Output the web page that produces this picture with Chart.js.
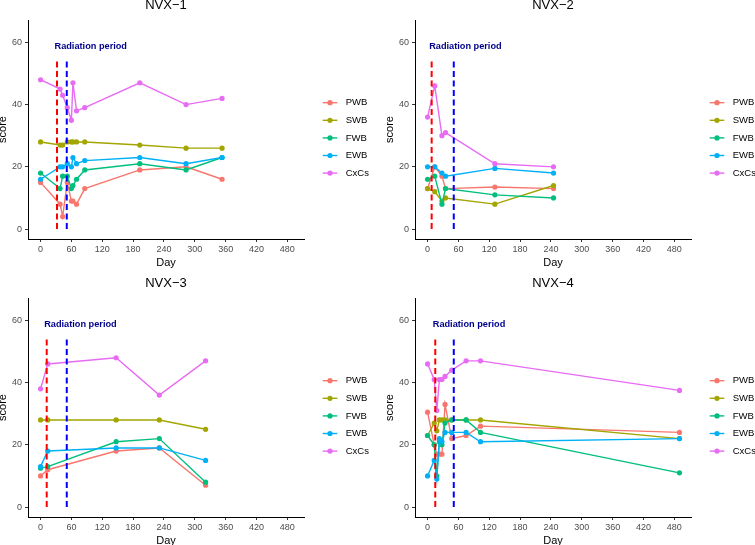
<!DOCTYPE html>
<html>
<head>
<meta charset="utf-8">
<script src="https://cdn.jsdelivr.net/npm/chart.js@4.4.1/dist/chart.umd.min.js"></script>
<style>
  html, body { margin: 0; padding: 0; overflow: hidden; background: #fff; }
  body { position: relative; width: 755px; height: 545px; }
  canvas { position: absolute; }
</style>
</head>
<body>
<canvas id="nvx1" width="377" height="278" style="left:0px;top:-8px"></canvas>
<canvas id="nvx2" width="377" height="278" style="left:387px;top:-8px"></canvas>
<canvas id="nvx3" width="377" height="278" style="left:0px;top:270px"></canvas>
<canvas id="nvx4" width="377" height="278" style="left:387px;top:270px"></canvas>
<script>
const seriesNames = ["PWB", "SWB", "FWB", "EWB", "CxCs"];
const seriesColors = ["#F8766D", "#A3A500", "#00BF7D", "#00B0F6", "#E76BF3"];
const xTicks = [0, 60, 120, 180, 240, 300, 360, 420, 480];
const yTicks = [0, 20, 40, 60];

// NVX-1
const nvx1Days = [0, 38, 43, 52, 60, 63, 70, 86, 193, 283, 353];
const nvx1PWB = [15, 8, 4, 15, 9, 9, 8, 13, 19, 20, 16];
const nvx1SWB = [28, 27, 27, 28, 28, 28, 28, 28, 27, 26, 26];
const nvx1FWB = [18, 13, 17, 17, 13, 14, 16, 19, 21, 19, 23];
const nvx1EWB = [16, 20, 20, 21, 20, 23, 21, 22, 23, 21, 23];
const nvx1CxCs = [48, 45, 43, 39, 35, 47, 38, 39, 47, 40, 42];

// NVX-2
const nvx2Days = [0, 14, 28, 35, 131, 245];
const nvx2PWB = [13, 20, 17, 13, 13.5, 13];
const nvx2SWB = [13, 12, 9, 10, 8, 14];
const nvx2FWB = [16, 17, 8, 13, 11, 10];
const nvx2EWB = [20, 20, 18, 17, 19.5, 18];
const nvx2CxCs = [36, 46, 30, 31, 21, 20];

// NVX-3
const nvx3Days = [0, 14, 147, 231, 321];
const nvx3PWB = [10, 12, 18, 19, 7];
const nvx3SWB = [28, 28, 28, 28, 25];
const nvx3FWB = [12.5, 13, 21, 22, 8];
const nvx3EWB = [13, 18, 19, 19, 15];
const nvx3CxCs = [38, 46, 48, 36, 47];

// NVX-4
const nvx4Days = [0, 13, 18, 23, 28, 34, 47, 75, 103, 490];
const nvx4PWB = [30.5, 20, 17, 17, 17, 33, 22, 23, 26, 24];
const nvx4SWB = [23, 27, 24.5, 28, 28, 28, 28, 28, 28, 22];
const nvx4FWB = [23, 20, 10, 21, 20, 27, 28, 28, 24, 11];
const nvx4EWB = [10, 15, 9, 22, 21, 24, 24, 24, 21, 22];
const nvx4CxCs = [46, 41, 31, 41, 41, 42, 44, 47, 47, 37.5];

// radiation period (start = red line, end = blue line)
const radStart = [32, 8, 12, 15];
const radEnd = [51, 51, 51, 51];
const radTop = 54;
const radLabelY = 58.8;

const FONT = '"Liberation Sans", Arial, Helvetica, sans-serif';

const panelDecor = {
  id: "panelDecor",
  afterDraw(chart, args, opts) {
    const ctx = chart.ctx;
    const area = chart.chartArea;
    const xs = chart.scales.x;
    const ys = chart.scales.y;
    ctx.save();
    // panel title
    ctx.fillStyle = "#000";
    ctx.font = "13px " + FONT;
    ctx.textAlign = "center";
    ctx.textBaseline = "middle";
    ctx.fillText(opts.title, (area.left + area.right) / 2, 13.5);

    // radiation label
    ctx.fillStyle = "#00008B";
    ctx.font = "bold 9.2px " + FONT;
    ctx.textAlign = "left";
    ctx.fillText("Radiation period", xs.getPixelForValue(opts.start) - 2.5, ys.getPixelForValue(radLabelY));

    // legend
    seriesNames.forEach(function (name, i) {
      const ly = 110.7 + i * 17.6;
      ctx.strokeStyle = seriesColors[i];
      ctx.lineWidth = 1.4;
      ctx.beginPath();
      ctx.moveTo(area.right + 18.7, ly);
      ctx.lineTo(area.right + 33.3, ly);
      ctx.stroke();
      ctx.fillStyle = seriesColors[i];
      ctx.beginPath();
      ctx.arc(area.right + 26, ly, 2.6, 0, Math.PI * 2);
      ctx.fill();
      ctx.fillStyle = "#000";
      ctx.font = "9.5px " + FONT;
      ctx.fillText(name, area.right + 41.7, ly);
    });
    ctx.restore();
  },
};

function vline(day, color) {
  return {
    label: "",
    data: [{ x: day, y: 0 }, { x: day, y: radTop }],
    borderColor: color,
    borderWidth: 2,
    borderDash: [6, 3.5],
    pointRadius: 0,
    order: 0,
  };
}

function buildChart(id, title, days, series, start, end) {
  const datasets = series.map(function (vals, i) {
    return {
      label: seriesNames[i],
      data: days.map((d, j) => ({ x: d, y: vals[j] })),
      borderColor: seriesColors[i],
      backgroundColor: seriesColors[i],
      borderWidth: 1.4,
      pointRadius: 2.6,
      pointBorderWidth: 0,
      tension: 0,
      order: 10 - i,
    };
  });
  datasets.push(vline(start, "#FF0000"), vline(end, "#0000FF"));

  new Chart(document.getElementById(id), {
    type: "line",
    data: { datasets: datasets },
    plugins: [panelDecor],
    options: {
      responsive: false,
      animation: false,
      devicePixelRatio: 1,
      layout: { padding: { top: 28, right: 73, left: 0, bottom: 0 } },
      plugins: {
        legend: { display: false },
        tooltip: { enabled: false },
        panelDecor: { title: title, start: start },
      },
      scales: {
        x: {
          type: "linear",
          min: -24.4,
          max: 512.4,
          afterBuildTicks: (s) => { s.ticks = xTicks.map((v) => ({ value: v })); },
          afterFit: (s) => { s.height = 31; },
          grid: { drawOnChartArea: false, drawTicks: true, tickLength: 3, color: "#333" },
          border: { display: true, color: "#000", width: 1 },
          ticks: { color: "#4D4D4D", font: { family: FONT, size: 9 }, padding: 2, maxRotation: 0, autoSkip: false },
          title: { display: true, text: "Day", color: "#000", font: { family: FONT, size: 11 }, padding: { top: 3.4, bottom: 0 } },
        },
        y: {
          min: -3.2,
          max: 67.2,
          afterBuildTicks: (s) => { s.ticks = yTicks.map((v) => ({ value: v })); },
          afterFit: (s) => { s.width = 28; },
          grid: { drawOnChartArea: false, drawTicks: true, tickLength: 3, color: "#333" },
          border: { display: true, color: "#000", width: 1 },
          ticks: { color: "#4D4D4D", font: { family: FONT, size: 9 }, padding: 3 },
          title: { display: true, text: "score", color: "#000", font: { family: FONT, size: 11 }, padding: { top: -3.5, bottom: 0 } },
        },
      },
    },
  });
}

buildChart("nvx1", "NVX\u22121", nvx1Days, [nvx1PWB, nvx1SWB, nvx1FWB, nvx1EWB, nvx1CxCs], radStart[0], radEnd[0]);
buildChart("nvx2", "NVX\u22122", nvx2Days, [nvx2PWB, nvx2SWB, nvx2FWB, nvx2EWB, nvx2CxCs], radStart[1], radEnd[1]);
buildChart("nvx3", "NVX\u22123", nvx3Days, [nvx3PWB, nvx3SWB, nvx3FWB, nvx3EWB, nvx3CxCs], radStart[2], radEnd[2]);
buildChart("nvx4", "NVX\u22124", nvx4Days, [nvx4PWB, nvx4SWB, nvx4FWB, nvx4EWB, nvx4CxCs], radStart[3], radEnd[3]);
</script>
</body>
</html>
